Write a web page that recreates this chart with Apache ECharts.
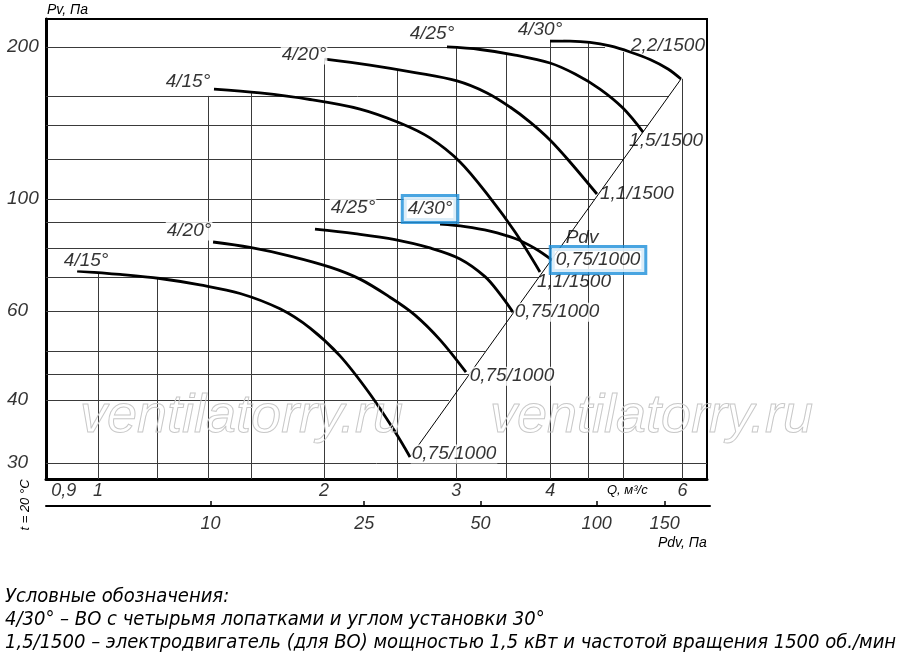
<!DOCTYPE html>
<html>
<head>
<meta charset="utf-8">
<script src="https://cdn.jsdelivr.net/npm/echarts@6/dist/echarts.min.js"></script>
<style>
  html, body { margin: 0; background: #fff; }
  #chart { width: 900px; height: 670px; }
</style>
</head>
<body>
<div id="chart"></div>
<script>
// points: [Q, м³/с ; Pv, Па]
// 1500 об/мин
var hi15 = [[1.427, 165.1], [1.643, 162.2], [1.916, 157.4], [2.233, 150.7], [2.524, 141.4], [2.767, 132.1], [3.034, 118.4], [3.327, 100.5], [3.592, 86.0], [3.877, 71.7]];
var hi20 = [[2.006, 189.3], [2.302, 184.2], [2.643, 178.0], [3.006, 171.3], [3.296, 162.2], [3.537, 152.1], [3.761, 142.0], [3.998, 130.9], [4.251, 118.4], [4.617, 102.3]];
var hi25 = [[2.915, 200.0], [3.227, 197.7], [3.592, 192.8], [3.998, 185.9], [4.318, 176.8], [4.660, 165.1], [5.0, 151.4], [5.318, 135.7]];
var hi30 = [[3.998, 205.5], [4.251, 205.4], [4.519, 204.2], [4.805, 200.9], [5.110, 195.5], [5.433, 188.9], [5.741, 180.9], [5.974, 172.8]];
// 1000 об/мин
var lo15 = [[0.938, 72.0], [1.070, 70.9], [1.209, 69.6], [1.367, 67.6], [1.546, 65.0], [1.747, 60.6], [1.916, 55.5], [2.100, 48.9], [2.302, 41.1], [2.486, 34.6], [2.603, 30.84]];
var lo20 = [[1.423, 82.2], [1.594, 80.2], [1.802, 77.1], [2.037, 73.3], [2.233, 69.4], [2.448, 63.9], [2.643, 58.9], [2.854, 52.6], [3.090, 45.4]];
var lo25 = [[1.945, 87.2], [2.198, 85.4], [2.486, 83.1], [2.767, 80.0], [3.034, 76.1], [3.276, 70.2], [3.430, 64.8], [3.569, 59.7]];
var lo30 = [[2.854, 89.2], [3.082, 88.2], [3.327, 86.4], [3.592, 83.5], [3.819, 79.8], [4.023, 75.7]];
// линия Pdv
var pdvLine = [[2.603, 30.84], [5.974, 172.8]];

var angles = ['4/15°', '4/20°', '4/25°', '4/30°'];
var motorsHi = ['1,1/1500', '1,1/1500', '1,5/1500', '2,2/1500'];
var motorsLo = ['0,75/1000', '0,75/1000', '0,75/1000', '0,75/1000'];

// axes
var qMin = 0.8526, qMax = 6.47;
var pMin = 27.9, pMax = 227.2;
var pdvMin = 3.75, pdvMax = 196.6;
var qTicks = [0.9, 1, 2, 3, 4, 6];
var qTickText = ['0,9', '1', '2', '3', '4', '6'];
var pTicks = [30, 40, 60, 100, 200];
var pdvTicks = [10, 25, 50, 100, 150];

// grid lines (each stops at the upper curve or at the Pdv line)
var gridQ = [1, 1.2, 1.4, 1.6, 2, 2.5, 3, 3.5, 4, 4.5, 5, 6];
var gridQTop = [71.4, 69.8, 160, 162, 190, 180, 199, 194.6, 205.5, 204.6, 195.5, 173];
var gridP = [30, 40, 45, 50, 60, 70, 80, 90, 100, 120, 140, 160, 200];
var gridPEnd = [6.47, 2.934, 3.119, 3.276, 3.592, 3.867, 4.123, 4.357, 4.589, 5.016, 5.4, 5.757, 4.733];

var FONT = "'Liberation Sans', Arial, sans-serif";
var NARROW = "'Liberation Sans Narrow', 'DejaVu Sans Condensed', sans-serif";
var BLUE = '#1b8fd9';

var chart = echarts.init(document.getElementById('chart'), null, { renderer: 'canvas' });

var hiCurves = [hi15, hi20, hi25, hi30];
var loCurves = [lo15, lo20, lo25, lo30];

var hiStartOff = [[-26, -7], [-21, -4], [-15, -13], [-10, -11]];
var hiEndOff = [[34, 10], [40, 0], [23, 9], [-13, -33]];
var loStartOff = [[9, -10], [-24, -11], [38, -21], [-10, -15]];
var loEndOff = [[44, -3], [46, 4], [44, 0], [46, 0]];

var boxed = { backgroundColor: '#fff', borderColor: BLUE, borderWidth: 3, padding: [3, 4, 2, 4] };
var bare = { backgroundColor: 'transparent' };

function tag(pt, text, off, extra) {
  var lb = { formatter: text, offset: off };
  if (extra) for (var k in extra) lb[k] = extra[k];
  return { value: pt, label: lb };
}

var tags = [];
hiCurves.forEach(function (c, i) {
  tags.push(tag(c[0], angles[i], hiStartOff[i]));
  tags.push(tag(c[c.length - 1], motorsHi[i], hiEndOff[i], bare));
});
loCurves.forEach(function (c, i) {
  tags.push(tag(c[0], angles[i], loStartOff[i], i === 3 ? boxed : null));
  tags.push(tag(c[c.length - 1], motorsLo[i], loEndOff[i], i === 3 ? boxed : null));
});
tags.push(tag(lo30[lo30.length - 1], 'Pdv', [30, -22], bare));

var curveSeries = hiCurves.concat(loCurves).map(function (c) {
  return {
    type: 'line', data: c, xAxisIndex: 0, yAxisIndex: 0,
    smooth: 0.35, showSymbol: false, symbol: 'none', silent: true, z: 4,
    lineStyle: { color: '#000', width: 2.8 }
  };
});

var gridLines = gridQ.map(function (q, i) { return { coords: [[q, pMin], [q, gridQTop[i]]] }; })
  .concat(gridP.map(function (p, i) { return { coords: [[qMin, p], [gridPEnd[i], p]] }; }));

var option = {
  animation: false,
  grid: [
    { left: 46, right: 193, top: 19, bottom: 191, show: true, borderColor: '#000', borderWidth: 2 },
    { left: 46, right: 190, top: 496, height: 10 }
  ],
  xAxis: [
    { type: 'log', gridIndex: 0, min: qMin, max: qMax,
      axisLine: { show: true, lineStyle: { color: '#000', width: 3 } },
      axisTick: { show: false }, axisLabel: { show: false }, splitLine: { show: false } },
    { type: 'log', gridIndex: 1, min: pdvMin, max: pdvMax,
      axisLine: { show: true, lineStyle: { color: '#000', width: 2 } },
      axisTick: { show: false }, axisLabel: { show: false }, splitLine: { show: false } }
  ],
  yAxis: [
    { type: 'log', gridIndex: 0, min: pMin, max: pMax,
      axisLine: { show: true, lineStyle: { color: '#000', width: 3 } },
      axisTick: { show: false }, axisLabel: { show: false }, splitLine: { show: false } },
    { type: 'value', gridIndex: 1, min: 0, max: 1, show: false }
  ],
  series: [
    {
      type: 'lines', coordinateSystem: 'cartesian2d', xAxisIndex: 0, yAxisIndex: 0,
      data: gridLines, silent: true, z: 1,
      lineStyle: { color: '#3a3a3a', width: 1, opacity: 1 }
    },
    {
      type: 'lines', coordinateSystem: 'cartesian2d', xAxisIndex: 0, yAxisIndex: 0,
      data: [{ coords: pdvLine }], silent: true, z: 3,
      lineStyle: { color: '#000', width: 1, opacity: 1 }
    }
  ].concat(curveSeries).concat([
    {
      type: 'scatter', xAxisIndex: 0, yAxisIndex: 0, data: tags, silent: true, z: 6,
      symbolSize: 1, itemStyle: { color: 'rgba(0,0,0,0)' },
      label: { show: true, position: 'inside', color: '#000', fontFamily: FONT, fontStyle: 'italic',
        fontSize: 19, backgroundColor: '#fff', padding: [0, 1] }
    },
    {
      type: 'scatter', xAxisIndex: 0, yAxisIndex: 0, silent: true, z: 6,
      data: pTicks.map(function (p) { return [qMin, p]; }),
      symbolSize: 1, itemStyle: { color: 'rgba(0,0,0,0)' },
      label: { show: true, position: 'inside', align: 'left', offset: [-39, 0],
        formatter: function (d) { return String(d.value[1]); },
        color: '#000', fontFamily: FONT, fontStyle: 'italic', fontSize: 19 }
    },
    {
      type: 'scatter', xAxisIndex: 0, yAxisIndex: 0, silent: true, z: 6,
      data: qTicks.map(function (q, i) { return { value: [q, pMin], name: qTickText[i] }; }),
      symbolSize: 1, itemStyle: { color: 'rgba(0,0,0,0)' },
      label: { show: true, position: 'inside', offset: [0, 12], formatter: '{b}',
        color: '#000', fontFamily: FONT, fontStyle: 'italic', fontSize: 18 }
    },
    {
      type: 'lines', coordinateSystem: 'cartesian2d', xAxisIndex: 1, yAxisIndex: 1, silent: true,
      data: pdvTicks.map(function (v) { return { coords: [[v, 0], [v, 0.5]] }; }),
      lineStyle: { color: '#000', width: 1.5, opacity: 1 }
    },
    {
      type: 'scatter', xAxisIndex: 1, yAxisIndex: 1, silent: true,
      data: pdvTicks.map(function (v) { return [v, 0]; }),
      symbolSize: 1, itemStyle: { color: 'rgba(0,0,0,0)' },
      label: { show: true, position: 'inside', offset: [0, 18],
        formatter: function (d) { return String(d.value[0]); },
        color: '#000', fontFamily: FONT, fontStyle: 'italic', fontSize: 18 }
    }
  ]),
  graphic: [
    { type: 'text', left: 47, top: 3, style: { text: 'Pv, Па', font: 'italic 14px ' + FONT, fill: '#000' } },
    { type: 'text', left: 607, top: 484, style: { text: 'Q, м³/с', font: 'italic 13px ' + FONT, fill: '#000' } },
    { type: 'text', left: 658, top: 536, style: { text: 'Pdv, Па', font: 'italic 14px ' + FONT, fill: '#000' } },
    { type: 'text', x: 25, y: 505, rotation: Math.PI / 2,
      style: { text: 't = 20 °C', font: 'italic 13px ' + FONT, fill: '#000', align: 'center', verticalAlign: 'middle' } },
    { type: 'text', x: 80, y: 417, z: 100, silent: true,
      style: { text: 'ventilatorry.ru', font: 'italic 54px ' + FONT, fill: 'rgba(255,255,255,0)',
        stroke: '#c8c8c8', lineWidth: 1, verticalAlign: 'middle' } },
    { type: 'text', x: 490, y: 417, z: 100, silent: true,
      style: { text: 'ventilatorry.ru', font: 'italic 54px ' + FONT, fill: 'rgba(255,255,255,0)',
        stroke: '#c8c8c8', lineWidth: 1, verticalAlign: 'middle' } },
    { type: 'text', left: 5, top: 587, style: { text: 'Условные обозначения:', font: 'italic 20px ' + NARROW, fill: '#000' } },
    { type: 'text', left: 5, top: 610, style: { text: '4/30° – ВО с четырьмя лопатками и углом установки 30°', font: 'italic 20px ' + NARROW, fill: '#000' } },
    { type: 'text', left: 5, top: 633, style: { text: '1,5/1500 – электродвигатель (для ВО) мощностью 1,5 кВт и частотой вращения 1500 об./мин', font: 'italic 20px ' + NARROW, fill: '#000' } }
  ]
};

chart.setOption(option);
</script>
</body>
</html>
